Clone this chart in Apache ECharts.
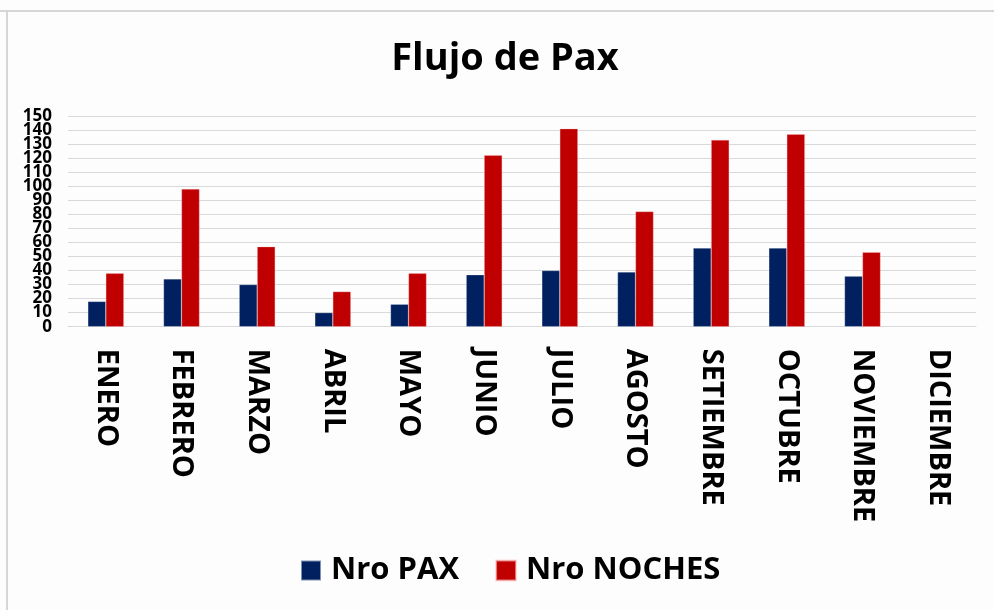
<!DOCTYPE html>
<html>
<head>
<meta charset="utf-8">
<script src="https://cdn.jsdelivr.net/npm/echarts@6/dist/echarts.min.js"></script>
<style>
html,body{margin:0;padding:0;background:#fdfdfd;}
#chart{width:994px;height:610px;}
</style>
</head>
<body>
<div id="chart"></div>
<script>
const months = ["ENERO","FEBRERO","MARZO","ABRIL","MAYO","JUNIO","JULIO","AGOSTO","SETIEMBRE","OCTUBRE","NOVIEMBRE","DICIEMBRE"];
const nroPax = [18,34,30,10,16,37,40,39,56,56,36,null];
const nroNoches = [38,98,57,25,38,122,141,82,133,137,53,null];
const seriesNames = ["Nro PAX","Nro NOCHES"];
const titleText = "Flujo de Pax";
const yMin = 0, yMax = 150, yStep = 10;

const labelStyle = {margin:16, fontFamily:'Open Sans', fontWeight:'bold', fontSize:17, color:'#000'};

const chart = echarts.init(document.getElementById('chart'), null, {renderer:'canvas'});
chart.setOption({
  backgroundColor:'#fdfdfd',
  animation:false,
  title:{
    text:titleText,
    left:505, top:40, textAlign:'center', padding:0,
    textStyle:{fontFamily:'Open Sans', fontWeight:'bold', fontSize:38, color:'#000'}
  },
  graphic:[
    {type:'line', shape:{x1:0,y1:11,x2:994,y2:11}, style:{stroke:'#d6d6d6', lineWidth:2}},
    {type:'line', shape:{x1:7,y1:11,x2:7,y2:610}, style:{stroke:'#d6d6d6', lineWidth:2}}
  ],
  legend:{
    left:300, top:555, padding:0,
    itemWidth:20, itemHeight:20, itemGap:36,
    icon:'rect',
    textStyle:{fontFamily:'Open Sans', fontWeight:'bold', fontSize:31, color:'#000', padding:[0,0,0,5]},
    data:seriesNames
  },
  grid:{left:68, right:18, top:116, bottom:283.3, containLabel:false},
  xAxis:{
    type:'category', data:months,
    axisLine:{lineStyle:{color:'#d9d9d9', width:1}},
    axisTick:{show:false},
    axisLabel:{rotate:-90, interval:0, margin:22,
      fontFamily:'Open Sans', fontWeight:'bold', fontSize:29, color:'#000'}
  },
  yAxis:[
    {
      type:'value', min:yMin, max:yMax, interval:yStep, position:'left',
      axisLine:{show:false}, axisTick:{show:false},
      splitLine:{lineStyle:{color:'#d9d9d9', width:1}},
      axisLabel:Object.assign({}, labelStyle)
    },
    {
      type:'value', min:yMin, max:yMax, interval:yStep, position:'left', offset:0,
      axisLine:{show:false}, axisTick:{show:false}, splitLine:{show:false},
      axisLabel:Object.assign({}, labelStyle, {
        showMinLabel:true, showMaxLabel:true,
        formatter:function(v){ return (v===yMin || v===yMax) ? String(v) : ''; }
      })
    }
  ],
  series:[
    {name:seriesNames[0], type:'bar', data:nroPax, barWidth:18, barGap:'0%', yAxisIndex:0,
     itemStyle:{color:'#002060', borderColor:'rgba(255,255,255,0.5)', borderWidth:0.5}},
    {name:seriesNames[1], type:'bar', data:nroNoches, barWidth:18, barGap:'0%', yAxisIndex:0,
     itemStyle:{color:'#C00000', borderColor:'rgba(255,200,200,0.6)', borderWidth:0.5}}
  ]
});
</script>
</body>
</html>
